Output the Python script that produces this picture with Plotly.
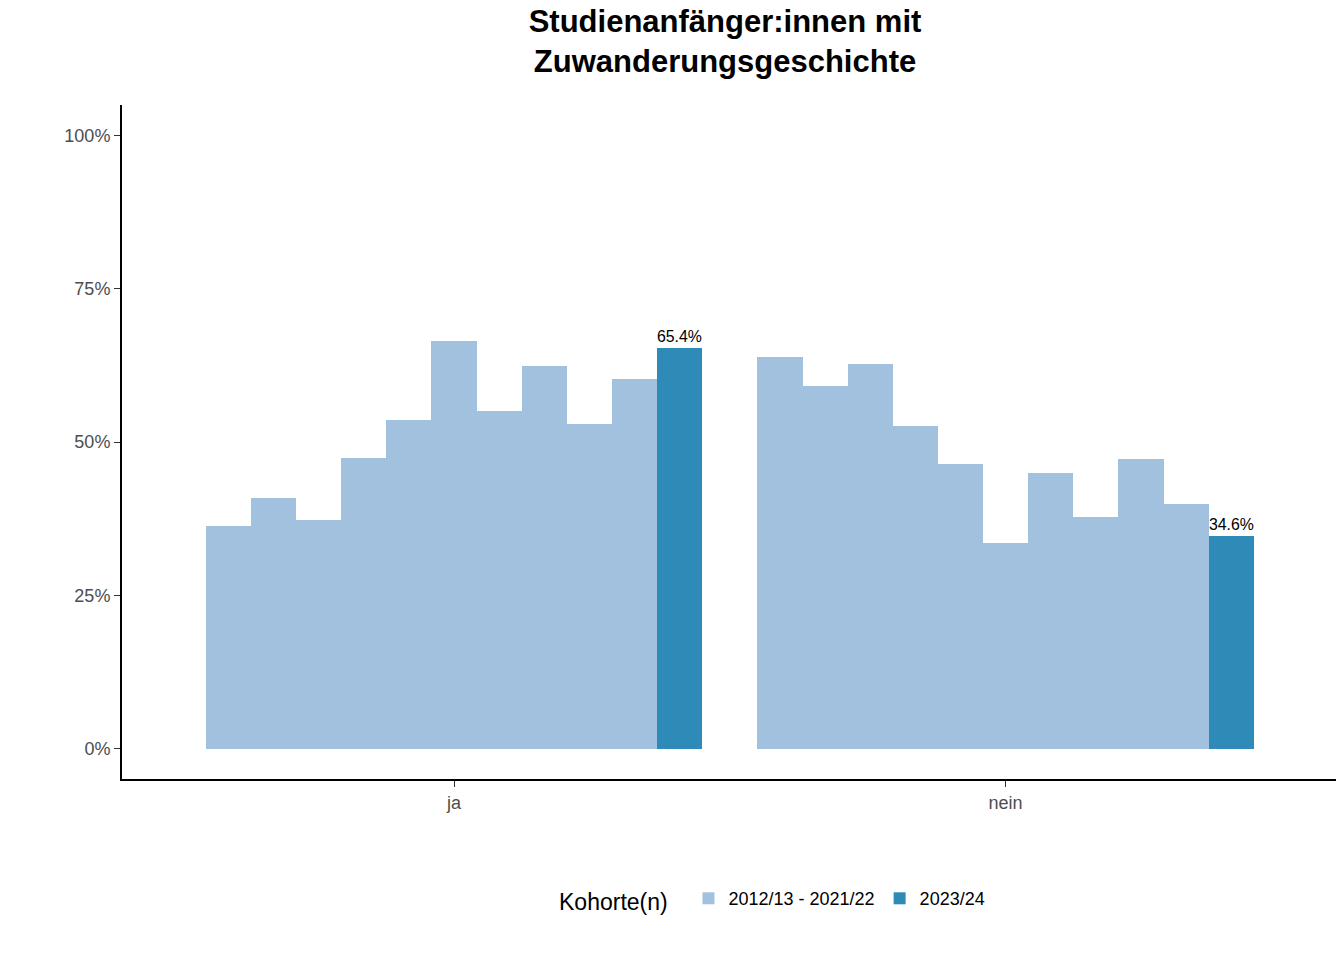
import plotly.graph_objects as go

categories = ['ja', 'nein']
past_ja = [0.363, 0.408, 0.373, 0.474, 0.536, 0.665, 0.551, 0.624, 0.530, 0.602]
past_nein = [0.639, 0.592, 0.627, 0.526, 0.464, 0.335, 0.449, 0.378, 0.472, 0.399]
current = [0.654, 0.346]

n = 11
w = 0.9 / n
def xs(center, idx):
    return [center + (i - (n - 1) / 2) * w for i in idx]

past_x = xs(0, range(10)) + xs(1, range(10))
cur_x = xs(0, [10]) + xs(1, [10])

fig = go.Figure()
fig.add_trace(go.Bar(x=past_x, y=past_ja + past_nein, width=w, marker_color='#a1c1de',
                     marker_line_width=0, name='2012/13 - 2021/22'))
fig.add_trace(go.Bar(x=cur_x, y=current, width=w, marker_color='#2e8bb8', marker_line_width=0,
                     name='2023/24', text=[f'{v*100:.1f}%' for v in current],
                     textposition='outside', textfont=dict(size=19, color='black'), cliponaxis=False))

fig.update_layout(
    width=1336, height=952, plot_bgcolor='white', paper_bgcolor='white',
    font=dict(family='Liberation Sans, Arial', size=18, color='#4d4d4d'),
    title=dict(text='<b>Studienanfänger:innen mit<br>Zuwanderungsgeschichte</b>', x=717/1336, xanchor='center',
               y=0.975, yanchor='top', font=dict(size=31, color='black')),
    margin=dict(l=114, r=8, t=97, b=181),
    bargap=0, barmode='overlay',
    legend=dict(orientation='h', x=717/1336, xanchor='center', y=-0.15, yanchor='top',
                title=dict(text='Kohorte(n)  ', font=dict(size=23, color='black')),
                font=dict(size=18, color='black')),
)
fig.update_xaxes(range=[-0.602, 1.599], tickvals=[0, 1], ticktext=categories, showline=True,
                 linecolor='black', linewidth=2, ticks='outside', ticklen=6, tickcolor='#333',
                 showgrid=False, zeroline=False, tickfont=dict(size=18, color='#4d4d4d'))
fig.update_yaxes(range=[-0.0495, 1.0495], tickvals=[0, 0.25, 0.5, 0.75, 1], tickformat='.0%',
                 showline=True, linecolor='black', linewidth=2, ticks='outside', ticklen=6,
                 tickcolor='#333', showgrid=False, zeroline=False, tickfont=dict(size=18, color='#4d4d4d'))

fig.write_html('out.html')
